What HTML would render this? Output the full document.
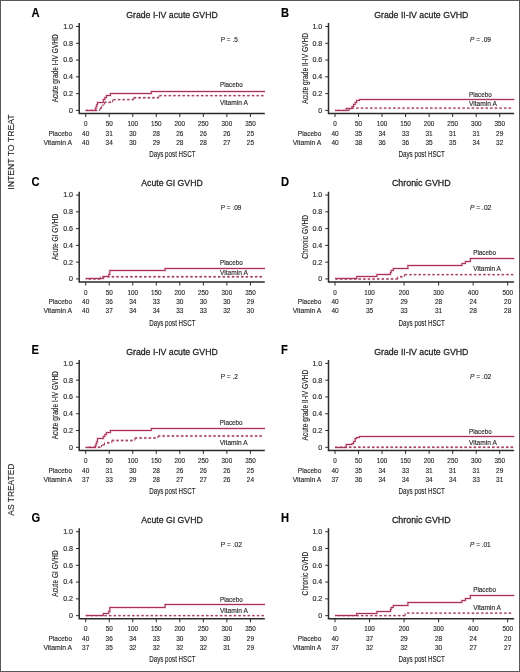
<!DOCTYPE html>
<html><head><meta charset="utf-8"><style>
html,body{margin:0;padding:0;background:#fff;}
body{width:520px;height:672px;overflow:hidden;}
svg{display:block;will-change:transform;}
svg text{font-family:"Liberation Sans", sans-serif;fill:#231f20;stroke:#231f20;stroke-width:0.14px;}
</style></head><body>
<svg width="520" height="672" viewBox="0 0 520 672">
<rect x="0" y="0" width="520" height="672" fill="#fff"/>
<text transform="translate(13.6 152.05) rotate(-90)" font-size="8.9" text-anchor="middle" textLength="75.4" lengthAdjust="spacingAndGlyphs">INTENT TO TREAT</text>
<text transform="translate(13.6 489.6) rotate(-90)" font-size="8.9" text-anchor="middle" textLength="52.1" lengthAdjust="spacingAndGlyphs">AS TREATED</text>
<g transform="translate(0 0)">
<text x="31.6" y="17" font-size="12.4" textLength="8.06" lengthAdjust="spacingAndGlyphs" font-weight="bold" style="fill:#000;stroke:#000">A</text>
<text x="172" y="17.7" font-size="9.1" text-anchor="middle" textLength="91.5" lengthAdjust="spacingAndGlyphs" style="stroke-width:0.28px">Grade I-IV acute GVHD</text>
<text x="220.8" y="41.5" font-size="6.8" textLength="17.1" lengthAdjust="spacingAndGlyphs">P = .5</text>
<text transform="translate(58.4 68.3) rotate(-90)" x="0" y="0" font-size="9.2" text-anchor="middle" textLength="68.1" lengthAdjust="spacingAndGlyphs">Acute grade I-IV GVHD</text>
<path d="M79.2 23.1V113.5H264.8" fill="none" stroke="#2a2a2a" stroke-width="1.5"/>
<path d="M76 110.4H79.2M76 93.62H79.2M76 76.84H79.2M76 60.06H79.2M76 43.28H79.2M76 26.5H79.2" stroke="#2a2a2a" stroke-width="1"/>
<text x="73" y="112.8" font-size="7.1" text-anchor="end">0</text>
<text x="73" y="96.02" font-size="7.1" text-anchor="end">0.2</text>
<text x="73" y="79.24" font-size="7.1" text-anchor="end">0.4</text>
<text x="73" y="62.46" font-size="7.1" text-anchor="end">0.6</text>
<text x="73" y="45.68" font-size="7.1" text-anchor="end">0.8</text>
<text x="73" y="28.9" font-size="7.1" text-anchor="end">1.0</text>
<path d="M85.7 113.5V117M109.23 113.5V117M132.76 113.5V117M156.29 113.5V117M179.82 113.5V117M203.35 113.5V117M226.88 113.5V117M250.41 113.5V117" stroke="#2a2a2a" stroke-width="1"/>
<text x="85.7" y="126" font-size="7.2" text-anchor="middle" textLength="3.52" lengthAdjust="spacingAndGlyphs">0</text>
<text x="109.23" y="126" font-size="7.2" text-anchor="middle" textLength="7.05" lengthAdjust="spacingAndGlyphs">50</text>
<text x="132.76" y="126" font-size="7.2" text-anchor="middle" textLength="10.57" lengthAdjust="spacingAndGlyphs">100</text>
<text x="156.29" y="126" font-size="7.2" text-anchor="middle" textLength="10.57" lengthAdjust="spacingAndGlyphs">150</text>
<text x="179.82" y="126" font-size="7.2" text-anchor="middle" textLength="10.57" lengthAdjust="spacingAndGlyphs">200</text>
<text x="203.35" y="126" font-size="7.2" text-anchor="middle" textLength="10.57" lengthAdjust="spacingAndGlyphs">250</text>
<text x="226.88" y="126" font-size="7.2" text-anchor="middle" textLength="10.57" lengthAdjust="spacingAndGlyphs">300</text>
<text x="250.41" y="126" font-size="7.2" text-anchor="middle" textLength="10.57" lengthAdjust="spacingAndGlyphs">350</text>
<text x="72" y="135.9" font-size="7.4" text-anchor="end" textLength="23.5" lengthAdjust="spacingAndGlyphs">Placebo</text>
<text x="72" y="144.9" font-size="7.4" text-anchor="end" textLength="28.6" lengthAdjust="spacingAndGlyphs">Vitamin A</text>
<text x="85.7" y="135.9" font-size="7.4" text-anchor="middle" textLength="7.24" lengthAdjust="spacingAndGlyphs">40</text>
<text x="109.23" y="135.9" font-size="7.4" text-anchor="middle" textLength="7.24" lengthAdjust="spacingAndGlyphs">31</text>
<text x="132.76" y="135.9" font-size="7.4" text-anchor="middle" textLength="7.24" lengthAdjust="spacingAndGlyphs">30</text>
<text x="156.29" y="135.9" font-size="7.4" text-anchor="middle" textLength="7.24" lengthAdjust="spacingAndGlyphs">28</text>
<text x="179.82" y="135.9" font-size="7.4" text-anchor="middle" textLength="7.24" lengthAdjust="spacingAndGlyphs">26</text>
<text x="203.35" y="135.9" font-size="7.4" text-anchor="middle" textLength="7.24" lengthAdjust="spacingAndGlyphs">26</text>
<text x="226.88" y="135.9" font-size="7.4" text-anchor="middle" textLength="7.24" lengthAdjust="spacingAndGlyphs">26</text>
<text x="250.41" y="135.9" font-size="7.4" text-anchor="middle" textLength="7.24" lengthAdjust="spacingAndGlyphs">25</text>
<text x="85.7" y="144.9" font-size="7.4" text-anchor="middle" textLength="7.24" lengthAdjust="spacingAndGlyphs">40</text>
<text x="109.23" y="144.9" font-size="7.4" text-anchor="middle" textLength="7.24" lengthAdjust="spacingAndGlyphs">34</text>
<text x="132.76" y="144.9" font-size="7.4" text-anchor="middle" textLength="7.24" lengthAdjust="spacingAndGlyphs">30</text>
<text x="156.29" y="144.9" font-size="7.4" text-anchor="middle" textLength="7.24" lengthAdjust="spacingAndGlyphs">29</text>
<text x="179.82" y="144.9" font-size="7.4" text-anchor="middle" textLength="7.24" lengthAdjust="spacingAndGlyphs">28</text>
<text x="203.35" y="144.9" font-size="7.4" text-anchor="middle" textLength="7.24" lengthAdjust="spacingAndGlyphs">28</text>
<text x="226.88" y="144.9" font-size="7.4" text-anchor="middle" textLength="7.24" lengthAdjust="spacingAndGlyphs">27</text>
<text x="250.41" y="144.9" font-size="7.4" text-anchor="middle" textLength="7.24" lengthAdjust="spacingAndGlyphs">25</text>
<text x="172.4" y="157" font-size="8.8" text-anchor="middle" textLength="46.4" lengthAdjust="spacingAndGlyphs">Days post HSCT</text>
<g fill="none" stroke="#f6cdd9" stroke-width="2.4" stroke-dasharray="2.5 2.12"><path d="M85.7 110.4H100" stroke-dashoffset="0.18"/><path d="M100 108.3H101.5" stroke-dashoffset="0.63"/><path d="M101.5 106.21H103" stroke-dashoffset="2.13"/><path d="M103 104.11H104.5" stroke-dashoffset="3.63"/><path d="M104.5 102.18H112.6" stroke-dashoffset="0.51"/><path d="M112.6 99.66H133.5" stroke-dashoffset="4"/><path d="M133.5 97.81H158.8" stroke-dashoffset="4.38"/><path d="M158.8 95.63H264" stroke-dashoffset="4.05"/></g>
<path d="M85.7 110.5H95.4V108.5H96.1V106.5H96.8V104.5H97.5V102.5H103.3V99.5H104.8V97.5H106.4V95.5H110.4V93.5H151.3V91.5H265" fill="none" stroke="#f6cdd9" stroke-width="2.4"/>
<g fill="none" stroke="#a04563" stroke-width="1.4" stroke-dasharray="2.5 2.12"><path d="M85.7 110.4H100" stroke-dashoffset="0.18"/><path d="M100 108.3H101.5" stroke-dashoffset="0.63"/><path d="M101.5 106.21H103" stroke-dashoffset="2.13"/><path d="M103 104.11H104.5" stroke-dashoffset="3.63"/><path d="M104.5 102.18H112.6" stroke-dashoffset="0.51"/><path d="M112.6 99.66H133.5" stroke-dashoffset="4"/><path d="M133.5 97.81H158.8" stroke-dashoffset="4.38"/><path d="M158.8 95.63H264" stroke-dashoffset="4.05"/></g>
<path d="M100 110.4V108.3M101.5 108.3V106.21M103 106.21V104.11M104.5 104.11V102.18M112.6 102.18V99.66M133.5 99.66V97.81M158.8 97.81V95.63" fill="none" stroke="#a04563" stroke-width="1.1"/>
<path d="M85.7 110.5H95.4V108.5H96.1V106.5H96.8V104.5H97.5V102.5H103.3V99.5H104.8V97.5H106.4V95.5H110.4V93.5H151.3V91.5H265" fill="none" stroke="#a33357" stroke-width="1.05"/>
<text x="220" y="87.4" font-size="7.5" textLength="22.8" lengthAdjust="spacingAndGlyphs">Placebo</text>
<text x="220" y="104.9" font-size="7.5" textLength="27.8" lengthAdjust="spacingAndGlyphs">Vitamin A</text>
</g>
<g transform="translate(249.3 0)">
<text x="31.6" y="17" font-size="12.4" textLength="8.06" lengthAdjust="spacingAndGlyphs" font-weight="bold" style="fill:#000;stroke:#000">B</text>
<text x="172" y="17.7" font-size="9.1" text-anchor="middle" textLength="94.2" lengthAdjust="spacingAndGlyphs" style="stroke-width:0.28px">Grade II-IV acute GVHD</text>
<text x="220.8" y="41.5" font-size="6.8" textLength="20.8" lengthAdjust="spacingAndGlyphs"><tspan font-style="italic">P</tspan> = .09</text>
<text transform="translate(58.4 68.3) rotate(-90)" x="0" y="0" font-size="9.2" text-anchor="middle" textLength="70.8" lengthAdjust="spacingAndGlyphs">Acute grade II-IV GVHD</text>
<path d="M79.2 23.1V113.5H264.8" fill="none" stroke="#2a2a2a" stroke-width="1.5"/>
<path d="M76 110.4H79.2M76 93.62H79.2M76 76.84H79.2M76 60.06H79.2M76 43.28H79.2M76 26.5H79.2" stroke="#2a2a2a" stroke-width="1"/>
<text x="73" y="112.8" font-size="7.1" text-anchor="end">0</text>
<text x="73" y="96.02" font-size="7.1" text-anchor="end">0.2</text>
<text x="73" y="79.24" font-size="7.1" text-anchor="end">0.4</text>
<text x="73" y="62.46" font-size="7.1" text-anchor="end">0.6</text>
<text x="73" y="45.68" font-size="7.1" text-anchor="end">0.8</text>
<text x="73" y="28.9" font-size="7.1" text-anchor="end">1.0</text>
<path d="M85.7 113.5V117M109.23 113.5V117M132.76 113.5V117M156.29 113.5V117M179.82 113.5V117M203.35 113.5V117M226.88 113.5V117M250.41 113.5V117" stroke="#2a2a2a" stroke-width="1"/>
<text x="85.7" y="126" font-size="7.2" text-anchor="middle" textLength="3.52" lengthAdjust="spacingAndGlyphs">0</text>
<text x="109.23" y="126" font-size="7.2" text-anchor="middle" textLength="7.05" lengthAdjust="spacingAndGlyphs">50</text>
<text x="132.76" y="126" font-size="7.2" text-anchor="middle" textLength="10.57" lengthAdjust="spacingAndGlyphs">100</text>
<text x="156.29" y="126" font-size="7.2" text-anchor="middle" textLength="10.57" lengthAdjust="spacingAndGlyphs">150</text>
<text x="179.82" y="126" font-size="7.2" text-anchor="middle" textLength="10.57" lengthAdjust="spacingAndGlyphs">200</text>
<text x="203.35" y="126" font-size="7.2" text-anchor="middle" textLength="10.57" lengthAdjust="spacingAndGlyphs">250</text>
<text x="226.88" y="126" font-size="7.2" text-anchor="middle" textLength="10.57" lengthAdjust="spacingAndGlyphs">300</text>
<text x="250.41" y="126" font-size="7.2" text-anchor="middle" textLength="10.57" lengthAdjust="spacingAndGlyphs">350</text>
<text x="72" y="135.9" font-size="7.4" text-anchor="end" textLength="23.5" lengthAdjust="spacingAndGlyphs">Placebo</text>
<text x="72" y="144.9" font-size="7.4" text-anchor="end" textLength="28.6" lengthAdjust="spacingAndGlyphs">Vitamin A</text>
<text x="85.7" y="135.9" font-size="7.4" text-anchor="middle" textLength="7.24" lengthAdjust="spacingAndGlyphs">40</text>
<text x="109.23" y="135.9" font-size="7.4" text-anchor="middle" textLength="7.24" lengthAdjust="spacingAndGlyphs">35</text>
<text x="132.76" y="135.9" font-size="7.4" text-anchor="middle" textLength="7.24" lengthAdjust="spacingAndGlyphs">34</text>
<text x="156.29" y="135.9" font-size="7.4" text-anchor="middle" textLength="7.24" lengthAdjust="spacingAndGlyphs">33</text>
<text x="179.82" y="135.9" font-size="7.4" text-anchor="middle" textLength="7.24" lengthAdjust="spacingAndGlyphs">31</text>
<text x="203.35" y="135.9" font-size="7.4" text-anchor="middle" textLength="7.24" lengthAdjust="spacingAndGlyphs">31</text>
<text x="226.88" y="135.9" font-size="7.4" text-anchor="middle" textLength="7.24" lengthAdjust="spacingAndGlyphs">31</text>
<text x="250.41" y="135.9" font-size="7.4" text-anchor="middle" textLength="7.24" lengthAdjust="spacingAndGlyphs">29</text>
<text x="85.7" y="144.9" font-size="7.4" text-anchor="middle" textLength="7.24" lengthAdjust="spacingAndGlyphs">40</text>
<text x="109.23" y="144.9" font-size="7.4" text-anchor="middle" textLength="7.24" lengthAdjust="spacingAndGlyphs">38</text>
<text x="132.76" y="144.9" font-size="7.4" text-anchor="middle" textLength="7.24" lengthAdjust="spacingAndGlyphs">36</text>
<text x="156.29" y="144.9" font-size="7.4" text-anchor="middle" textLength="7.24" lengthAdjust="spacingAndGlyphs">36</text>
<text x="179.82" y="144.9" font-size="7.4" text-anchor="middle" textLength="7.24" lengthAdjust="spacingAndGlyphs">35</text>
<text x="203.35" y="144.9" font-size="7.4" text-anchor="middle" textLength="7.24" lengthAdjust="spacingAndGlyphs">35</text>
<text x="226.88" y="144.9" font-size="7.4" text-anchor="middle" textLength="7.24" lengthAdjust="spacingAndGlyphs">34</text>
<text x="250.41" y="144.9" font-size="7.4" text-anchor="middle" textLength="7.24" lengthAdjust="spacingAndGlyphs">32</text>
<text x="172.4" y="157" font-size="8.8" text-anchor="middle" textLength="46.4" lengthAdjust="spacingAndGlyphs">Days post HSCT</text>
<g fill="none" stroke="#f6cdd9" stroke-width="2.4" stroke-dasharray="2.5 2.12"><path d="M85.7 110.4H99.95" stroke-dashoffset="1.96"/><path d="M99.95 108.13H264" stroke-dashoffset="2.37"/></g>
<path d="M85.7 110.5H96.95V108.5H102.7V106.5H104.3V104.5H105.8V102.5H107.3V100.5H110.2V99.5H265" fill="none" stroke="#f6cdd9" stroke-width="2.4"/>
<g fill="none" stroke="#a04563" stroke-width="1.4" stroke-dasharray="2.5 2.12"><path d="M85.7 110.4H99.95" stroke-dashoffset="1.96"/><path d="M99.95 108.13H264" stroke-dashoffset="2.37"/></g>
<path d="M99.95 110.4V108.13" fill="none" stroke="#a04563" stroke-width="1.1"/>
<path d="M85.7 110.5H96.95V108.5H102.7V106.5H104.3V104.5H105.8V102.5H107.3V100.5H110.2V99.5H265" fill="none" stroke="#a33357" stroke-width="1.05"/>
<text x="219.7" y="96.5" font-size="7.5" textLength="22.8" lengthAdjust="spacingAndGlyphs">Placebo</text>
<text x="219.7" y="105.9" font-size="7.5" textLength="27.8" lengthAdjust="spacingAndGlyphs">Vitamin A</text>
</g>
<g transform="translate(0 168.55)">
<text x="31.6" y="17" font-size="12.4" textLength="8.06" lengthAdjust="spacingAndGlyphs" font-weight="bold" style="fill:#000;stroke:#000">C</text>
<text x="172" y="17.7" font-size="9.1" text-anchor="middle" textLength="61.4" lengthAdjust="spacingAndGlyphs" style="stroke-width:0.28px">Acute GI GVHD</text>
<text x="220.8" y="41.2" font-size="6.8" textLength="20.7" lengthAdjust="spacingAndGlyphs">P = .09</text>
<text transform="translate(58.4 68.3) rotate(-90)" x="0" y="0" font-size="9.2" text-anchor="middle" textLength="46.4" lengthAdjust="spacingAndGlyphs">Acute GI GVHD</text>
<path d="M79.2 23.1V113.5H264.8" fill="none" stroke="#2a2a2a" stroke-width="1.5"/>
<path d="M76 110.4H79.2M76 93.62H79.2M76 76.84H79.2M76 60.06H79.2M76 43.28H79.2M76 26.5H79.2" stroke="#2a2a2a" stroke-width="1"/>
<text x="73" y="112.8" font-size="7.1" text-anchor="end">0</text>
<text x="73" y="96.02" font-size="7.1" text-anchor="end">0.2</text>
<text x="73" y="79.24" font-size="7.1" text-anchor="end">0.4</text>
<text x="73" y="62.46" font-size="7.1" text-anchor="end">0.6</text>
<text x="73" y="45.68" font-size="7.1" text-anchor="end">0.8</text>
<text x="73" y="28.9" font-size="7.1" text-anchor="end">1.0</text>
<path d="M85.7 113.5V117M109.23 113.5V117M132.76 113.5V117M156.29 113.5V117M179.82 113.5V117M203.35 113.5V117M226.88 113.5V117M250.41 113.5V117" stroke="#2a2a2a" stroke-width="1"/>
<text x="85.7" y="126" font-size="7.2" text-anchor="middle" textLength="3.52" lengthAdjust="spacingAndGlyphs">0</text>
<text x="109.23" y="126" font-size="7.2" text-anchor="middle" textLength="7.05" lengthAdjust="spacingAndGlyphs">50</text>
<text x="132.76" y="126" font-size="7.2" text-anchor="middle" textLength="10.57" lengthAdjust="spacingAndGlyphs">100</text>
<text x="156.29" y="126" font-size="7.2" text-anchor="middle" textLength="10.57" lengthAdjust="spacingAndGlyphs">150</text>
<text x="179.82" y="126" font-size="7.2" text-anchor="middle" textLength="10.57" lengthAdjust="spacingAndGlyphs">200</text>
<text x="203.35" y="126" font-size="7.2" text-anchor="middle" textLength="10.57" lengthAdjust="spacingAndGlyphs">250</text>
<text x="226.88" y="126" font-size="7.2" text-anchor="middle" textLength="10.57" lengthAdjust="spacingAndGlyphs">300</text>
<text x="250.41" y="126" font-size="7.2" text-anchor="middle" textLength="10.57" lengthAdjust="spacingAndGlyphs">350</text>
<text x="72" y="135.9" font-size="7.4" text-anchor="end" textLength="23.5" lengthAdjust="spacingAndGlyphs">Placebo</text>
<text x="72" y="144.9" font-size="7.4" text-anchor="end" textLength="28.6" lengthAdjust="spacingAndGlyphs">Vitamin A</text>
<text x="85.7" y="135.9" font-size="7.4" text-anchor="middle" textLength="7.24" lengthAdjust="spacingAndGlyphs">40</text>
<text x="109.23" y="135.9" font-size="7.4" text-anchor="middle" textLength="7.24" lengthAdjust="spacingAndGlyphs">36</text>
<text x="132.76" y="135.9" font-size="7.4" text-anchor="middle" textLength="7.24" lengthAdjust="spacingAndGlyphs">34</text>
<text x="156.29" y="135.9" font-size="7.4" text-anchor="middle" textLength="7.24" lengthAdjust="spacingAndGlyphs">33</text>
<text x="179.82" y="135.9" font-size="7.4" text-anchor="middle" textLength="7.24" lengthAdjust="spacingAndGlyphs">30</text>
<text x="203.35" y="135.9" font-size="7.4" text-anchor="middle" textLength="7.24" lengthAdjust="spacingAndGlyphs">30</text>
<text x="226.88" y="135.9" font-size="7.4" text-anchor="middle" textLength="7.24" lengthAdjust="spacingAndGlyphs">30</text>
<text x="250.41" y="135.9" font-size="7.4" text-anchor="middle" textLength="7.24" lengthAdjust="spacingAndGlyphs">29</text>
<text x="85.7" y="144.9" font-size="7.4" text-anchor="middle" textLength="7.24" lengthAdjust="spacingAndGlyphs">40</text>
<text x="109.23" y="144.9" font-size="7.4" text-anchor="middle" textLength="7.24" lengthAdjust="spacingAndGlyphs">37</text>
<text x="132.76" y="144.9" font-size="7.4" text-anchor="middle" textLength="7.24" lengthAdjust="spacingAndGlyphs">34</text>
<text x="156.29" y="144.9" font-size="7.4" text-anchor="middle" textLength="7.24" lengthAdjust="spacingAndGlyphs">34</text>
<text x="179.82" y="144.9" font-size="7.4" text-anchor="middle" textLength="7.24" lengthAdjust="spacingAndGlyphs">33</text>
<text x="203.35" y="144.9" font-size="7.4" text-anchor="middle" textLength="7.24" lengthAdjust="spacingAndGlyphs">33</text>
<text x="226.88" y="144.9" font-size="7.4" text-anchor="middle" textLength="7.24" lengthAdjust="spacingAndGlyphs">32</text>
<text x="250.41" y="144.9" font-size="7.4" text-anchor="middle" textLength="7.24" lengthAdjust="spacingAndGlyphs">30</text>
<text x="172.4" y="157" font-size="8.8" text-anchor="middle" textLength="46.4" lengthAdjust="spacingAndGlyphs">Days post HSCT</text>
<g fill="none" stroke="#f6cdd9" stroke-width="2.4" stroke-dasharray="2.5 2.12"><path d="M85.7 110.4H100.3" stroke-dashoffset="1.73"/><path d="M100.3 108.13H264" stroke-dashoffset="2.48"/></g>
<path d="M85.7 109.95H103.3V107.95H108.7V105.95H109.8V101.95H165.1V99.95H265" fill="none" stroke="#f6cdd9" stroke-width="2.4"/>
<g fill="none" stroke="#a04563" stroke-width="1.4" stroke-dasharray="2.5 2.12"><path d="M85.7 110.4H100.3" stroke-dashoffset="1.73"/><path d="M100.3 108.13H264" stroke-dashoffset="2.48"/></g>
<path d="M100.3 110.4V108.13" fill="none" stroke="#a04563" stroke-width="1.1"/>
<path d="M85.7 109.95H103.3V107.95H108.7V105.95H109.8V101.95H165.1V99.95H265" fill="none" stroke="#a33357" stroke-width="1.05"/>
<text x="220" y="96.15" font-size="7.5" textLength="22.8" lengthAdjust="spacingAndGlyphs">Placebo</text>
<text x="220" y="106.15" font-size="7.5" textLength="27.8" lengthAdjust="spacingAndGlyphs">Vitamin A</text>
</g>
<g transform="translate(249.3 168.55)">
<text x="31.6" y="17" font-size="12.4" textLength="8.06" lengthAdjust="spacingAndGlyphs" font-weight="bold" style="fill:#000;stroke:#000">D</text>
<text x="172" y="17.7" font-size="9.1" text-anchor="middle" textLength="58.8" lengthAdjust="spacingAndGlyphs" style="stroke-width:0.28px">Chronic GVHD</text>
<text x="220.8" y="41.2" font-size="6.8" textLength="21.2" lengthAdjust="spacingAndGlyphs"><tspan font-style="italic">P</tspan> = .02</text>
<text transform="translate(58.4 68.3) rotate(-90)" x="0" y="0" font-size="9.2" text-anchor="middle" textLength="43.7" lengthAdjust="spacingAndGlyphs">Chronic GVHD</text>
<path d="M79.2 23.1V113.5H264.8" fill="none" stroke="#2a2a2a" stroke-width="1.5"/>
<path d="M76 110.4H79.2M76 93.62H79.2M76 76.84H79.2M76 60.06H79.2M76 43.28H79.2M76 26.5H79.2" stroke="#2a2a2a" stroke-width="1"/>
<text x="73" y="112.8" font-size="7.1" text-anchor="end">0</text>
<text x="73" y="96.02" font-size="7.1" text-anchor="end">0.2</text>
<text x="73" y="79.24" font-size="7.1" text-anchor="end">0.4</text>
<text x="73" y="62.46" font-size="7.1" text-anchor="end">0.6</text>
<text x="73" y="45.68" font-size="7.1" text-anchor="end">0.8</text>
<text x="73" y="28.9" font-size="7.1" text-anchor="end">1.0</text>
<path d="M85.7 113.5V117M120.24 113.5V117M154.78 113.5V117M189.32 113.5V117M223.86 113.5V117M258.4 113.5V117" stroke="#2a2a2a" stroke-width="1"/>
<text x="85.7" y="126" font-size="7.2" text-anchor="middle" textLength="3.52" lengthAdjust="spacingAndGlyphs">0</text>
<text x="120.24" y="126" font-size="7.2" text-anchor="middle" textLength="10.57" lengthAdjust="spacingAndGlyphs">100</text>
<text x="154.78" y="126" font-size="7.2" text-anchor="middle" textLength="10.57" lengthAdjust="spacingAndGlyphs">200</text>
<text x="189.32" y="126" font-size="7.2" text-anchor="middle" textLength="10.57" lengthAdjust="spacingAndGlyphs">300</text>
<text x="223.86" y="126" font-size="7.2" text-anchor="middle" textLength="10.57" lengthAdjust="spacingAndGlyphs">400</text>
<text x="258.4" y="126" font-size="7.2" text-anchor="middle" textLength="10.57" lengthAdjust="spacingAndGlyphs">500</text>
<text x="72" y="135.9" font-size="7.4" text-anchor="end" textLength="23.5" lengthAdjust="spacingAndGlyphs">Placebo</text>
<text x="72" y="144.9" font-size="7.4" text-anchor="end" textLength="28.6" lengthAdjust="spacingAndGlyphs">Vitamin A</text>
<text x="85.7" y="135.9" font-size="7.4" text-anchor="middle" textLength="7.24" lengthAdjust="spacingAndGlyphs">40</text>
<text x="120.24" y="135.9" font-size="7.4" text-anchor="middle" textLength="7.24" lengthAdjust="spacingAndGlyphs">37</text>
<text x="154.78" y="135.9" font-size="7.4" text-anchor="middle" textLength="7.24" lengthAdjust="spacingAndGlyphs">29</text>
<text x="189.32" y="135.9" font-size="7.4" text-anchor="middle" textLength="7.24" lengthAdjust="spacingAndGlyphs">28</text>
<text x="223.86" y="135.9" font-size="7.4" text-anchor="middle" textLength="7.24" lengthAdjust="spacingAndGlyphs">24</text>
<text x="258.4" y="135.9" font-size="7.4" text-anchor="middle" textLength="7.24" lengthAdjust="spacingAndGlyphs">20</text>
<text x="85.7" y="144.9" font-size="7.4" text-anchor="middle" textLength="7.24" lengthAdjust="spacingAndGlyphs">40</text>
<text x="120.24" y="144.9" font-size="7.4" text-anchor="middle" textLength="7.24" lengthAdjust="spacingAndGlyphs">35</text>
<text x="154.78" y="144.9" font-size="7.4" text-anchor="middle" textLength="7.24" lengthAdjust="spacingAndGlyphs">33</text>
<text x="189.32" y="144.9" font-size="7.4" text-anchor="middle" textLength="7.24" lengthAdjust="spacingAndGlyphs">31</text>
<text x="223.86" y="144.9" font-size="7.4" text-anchor="middle" textLength="7.24" lengthAdjust="spacingAndGlyphs">28</text>
<text x="258.4" y="144.9" font-size="7.4" text-anchor="middle" textLength="7.24" lengthAdjust="spacingAndGlyphs">28</text>
<text x="172.4" y="157" font-size="8.8" text-anchor="middle" textLength="46.4" lengthAdjust="spacingAndGlyphs">Days post HSCT</text>
<g fill="none" stroke="#f6cdd9" stroke-width="2.4" stroke-dasharray="2.5 2.12"><path d="M85.7 110.4H148.4" stroke-dashoffset="4.24"/><path d="M148.4 108.22H155.1" stroke-dashoffset="2.33"/><path d="M155.1 106.04H264" stroke-dashoffset="4.42"/></g>
<path d="M85.7 109.95H107.4V107.95H127.6V105.95H141.1V103.95H141.9V101.95H144V99.95H158.6V96.95H212.6V94.95H216.1V92.95H221V89.95H265" fill="none" stroke="#f6cdd9" stroke-width="2.4"/>
<g fill="none" stroke="#a04563" stroke-width="1.4" stroke-dasharray="2.5 2.12"><path d="M85.7 110.4H148.4" stroke-dashoffset="4.24"/><path d="M148.4 108.22H155.1" stroke-dashoffset="2.33"/><path d="M155.1 106.04H264" stroke-dashoffset="4.42"/></g>
<path d="M148.4 110.4V108.22M155.1 108.22V106.04" fill="none" stroke="#a04563" stroke-width="1.1"/>
<path d="M85.7 109.95H107.4V107.95H127.6V105.95H141.1V103.95H141.9V101.95H144V99.95H158.6V96.95H212.6V94.95H216.1V92.95H221V89.95H265" fill="none" stroke="#a33357" stroke-width="1.05"/>
<text x="223.9" y="86.95" font-size="7.5" textLength="22.8" lengthAdjust="spacingAndGlyphs">Placebo</text>
<text x="223.9" y="102.75" font-size="7.5" textLength="27.8" lengthAdjust="spacingAndGlyphs">Vitamin A</text>
</g>
<g transform="translate(0 336.9)">
<text x="31.6" y="17" font-size="12.4" textLength="7.44" lengthAdjust="spacingAndGlyphs" font-weight="bold" style="fill:#000;stroke:#000">E</text>
<text x="172" y="17.7" font-size="9.1" text-anchor="middle" textLength="91.5" lengthAdjust="spacingAndGlyphs" style="stroke-width:0.28px">Grade I-IV acute GVHD</text>
<text x="220.8" y="41.85" font-size="6.8" textLength="17.1" lengthAdjust="spacingAndGlyphs">P = .2</text>
<text transform="translate(58.4 68.3) rotate(-90)" x="0" y="0" font-size="9.2" text-anchor="middle" textLength="68.1" lengthAdjust="spacingAndGlyphs">Acute grade I-IV GVHD</text>
<path d="M79.2 23.1V113.5H264.8" fill="none" stroke="#2a2a2a" stroke-width="1.5"/>
<path d="M76 110.4H79.2M76 93.62H79.2M76 76.84H79.2M76 60.06H79.2M76 43.28H79.2M76 26.5H79.2" stroke="#2a2a2a" stroke-width="1"/>
<text x="73" y="112.8" font-size="7.1" text-anchor="end">0</text>
<text x="73" y="96.02" font-size="7.1" text-anchor="end">0.2</text>
<text x="73" y="79.24" font-size="7.1" text-anchor="end">0.4</text>
<text x="73" y="62.46" font-size="7.1" text-anchor="end">0.6</text>
<text x="73" y="45.68" font-size="7.1" text-anchor="end">0.8</text>
<text x="73" y="28.9" font-size="7.1" text-anchor="end">1.0</text>
<path d="M85.7 113.5V117M109.23 113.5V117M132.76 113.5V117M156.29 113.5V117M179.82 113.5V117M203.35 113.5V117M226.88 113.5V117M250.41 113.5V117" stroke="#2a2a2a" stroke-width="1"/>
<text x="85.7" y="126" font-size="7.2" text-anchor="middle" textLength="3.52" lengthAdjust="spacingAndGlyphs">0</text>
<text x="109.23" y="126" font-size="7.2" text-anchor="middle" textLength="7.05" lengthAdjust="spacingAndGlyphs">50</text>
<text x="132.76" y="126" font-size="7.2" text-anchor="middle" textLength="10.57" lengthAdjust="spacingAndGlyphs">100</text>
<text x="156.29" y="126" font-size="7.2" text-anchor="middle" textLength="10.57" lengthAdjust="spacingAndGlyphs">150</text>
<text x="179.82" y="126" font-size="7.2" text-anchor="middle" textLength="10.57" lengthAdjust="spacingAndGlyphs">200</text>
<text x="203.35" y="126" font-size="7.2" text-anchor="middle" textLength="10.57" lengthAdjust="spacingAndGlyphs">250</text>
<text x="226.88" y="126" font-size="7.2" text-anchor="middle" textLength="10.57" lengthAdjust="spacingAndGlyphs">300</text>
<text x="250.41" y="126" font-size="7.2" text-anchor="middle" textLength="10.57" lengthAdjust="spacingAndGlyphs">350</text>
<text x="72" y="135.9" font-size="7.4" text-anchor="end" textLength="23.5" lengthAdjust="spacingAndGlyphs">Placebo</text>
<text x="72" y="144.9" font-size="7.4" text-anchor="end" textLength="28.6" lengthAdjust="spacingAndGlyphs">Vitamin A</text>
<text x="85.7" y="135.9" font-size="7.4" text-anchor="middle" textLength="7.24" lengthAdjust="spacingAndGlyphs">40</text>
<text x="109.23" y="135.9" font-size="7.4" text-anchor="middle" textLength="7.24" lengthAdjust="spacingAndGlyphs">31</text>
<text x="132.76" y="135.9" font-size="7.4" text-anchor="middle" textLength="7.24" lengthAdjust="spacingAndGlyphs">30</text>
<text x="156.29" y="135.9" font-size="7.4" text-anchor="middle" textLength="7.24" lengthAdjust="spacingAndGlyphs">28</text>
<text x="179.82" y="135.9" font-size="7.4" text-anchor="middle" textLength="7.24" lengthAdjust="spacingAndGlyphs">26</text>
<text x="203.35" y="135.9" font-size="7.4" text-anchor="middle" textLength="7.24" lengthAdjust="spacingAndGlyphs">26</text>
<text x="226.88" y="135.9" font-size="7.4" text-anchor="middle" textLength="7.24" lengthAdjust="spacingAndGlyphs">26</text>
<text x="250.41" y="135.9" font-size="7.4" text-anchor="middle" textLength="7.24" lengthAdjust="spacingAndGlyphs">25</text>
<text x="85.7" y="144.9" font-size="7.4" text-anchor="middle" textLength="7.24" lengthAdjust="spacingAndGlyphs">37</text>
<text x="109.23" y="144.9" font-size="7.4" text-anchor="middle" textLength="7.24" lengthAdjust="spacingAndGlyphs">33</text>
<text x="132.76" y="144.9" font-size="7.4" text-anchor="middle" textLength="7.24" lengthAdjust="spacingAndGlyphs">29</text>
<text x="156.29" y="144.9" font-size="7.4" text-anchor="middle" textLength="7.24" lengthAdjust="spacingAndGlyphs">28</text>
<text x="179.82" y="144.9" font-size="7.4" text-anchor="middle" textLength="7.24" lengthAdjust="spacingAndGlyphs">27</text>
<text x="203.35" y="144.9" font-size="7.4" text-anchor="middle" textLength="7.24" lengthAdjust="spacingAndGlyphs">27</text>
<text x="226.88" y="144.9" font-size="7.4" text-anchor="middle" textLength="7.24" lengthAdjust="spacingAndGlyphs">26</text>
<text x="250.41" y="144.9" font-size="7.4" text-anchor="middle" textLength="7.24" lengthAdjust="spacingAndGlyphs">24</text>
<text x="172.4" y="157" font-size="8.8" text-anchor="middle" textLength="46.4" lengthAdjust="spacingAndGlyphs">Days post HSCT</text>
<g fill="none" stroke="#f6cdd9" stroke-width="2.4" stroke-dasharray="2.5 2.12"><path d="M85.7 110.4H101.5" stroke-dashoffset="1.73"/><path d="M101.5 108.05H104.5" stroke-dashoffset="3.68"/><path d="M104.5 105.79H111.8" stroke-dashoffset="2.07"/><path d="M111.8 103.6H134.9" stroke-dashoffset="0.14"/><path d="M134.9 101.17H158" stroke-dashoffset="0.16"/><path d="M158 99.16H264" stroke-dashoffset="0.19"/></g>
<path d="M85.7 110.6H95.4V108.6H96.1V106.6H96.8V104.6H97.5V101.6H103.3V99.6H104.8V97.6H106.4V95.6H110.4V93.6H151.3V91.6H265" fill="none" stroke="#f6cdd9" stroke-width="2.4"/>
<g fill="none" stroke="#a04563" stroke-width="1.4" stroke-dasharray="2.5 2.12"><path d="M85.7 110.4H101.5" stroke-dashoffset="1.73"/><path d="M101.5 108.05H104.5" stroke-dashoffset="3.68"/><path d="M104.5 105.79H111.8" stroke-dashoffset="2.07"/><path d="M111.8 103.6H134.9" stroke-dashoffset="0.14"/><path d="M134.9 101.17H158" stroke-dashoffset="0.16"/><path d="M158 99.16H264" stroke-dashoffset="0.19"/></g>
<path d="M101.5 110.4V108.05M104.5 108.05V105.79M111.8 105.79V103.6M134.9 103.6V101.17M158 101.17V99.16" fill="none" stroke="#a04563" stroke-width="1.1"/>
<path d="M85.7 110.6H95.4V108.6H96.1V106.6H96.8V104.6H97.5V101.6H103.3V99.6H104.8V97.6H106.4V95.6H110.4V93.6H151.3V91.6H265" fill="none" stroke="#a33357" stroke-width="1.05"/>
<text x="219.8" y="88.1" font-size="7.5" textLength="22.8" lengthAdjust="spacingAndGlyphs">Placebo</text>
<text x="219.8" y="107.9" font-size="7.5" textLength="27.8" lengthAdjust="spacingAndGlyphs">Vitamin A</text>
</g>
<g transform="translate(249.3 336.9)">
<text x="31.6" y="17" font-size="12.4" textLength="6.82" lengthAdjust="spacingAndGlyphs" font-weight="bold" style="fill:#000;stroke:#000">F</text>
<text x="172" y="17.7" font-size="9.1" text-anchor="middle" textLength="94.2" lengthAdjust="spacingAndGlyphs" style="stroke-width:0.28px">Grade II-IV acute GVHD</text>
<text x="220.8" y="41.85" font-size="6.8" textLength="21.2" lengthAdjust="spacingAndGlyphs"><tspan font-style="italic">P</tspan> = .02</text>
<text transform="translate(58.4 68.3) rotate(-90)" x="0" y="0" font-size="9.2" text-anchor="middle" textLength="70.8" lengthAdjust="spacingAndGlyphs">Acute grade II-IV GVHD</text>
<path d="M79.2 23.1V113.5H264.8" fill="none" stroke="#2a2a2a" stroke-width="1.5"/>
<path d="M76 110.4H79.2M76 93.62H79.2M76 76.84H79.2M76 60.06H79.2M76 43.28H79.2M76 26.5H79.2" stroke="#2a2a2a" stroke-width="1"/>
<text x="73" y="112.8" font-size="7.1" text-anchor="end">0</text>
<text x="73" y="96.02" font-size="7.1" text-anchor="end">0.2</text>
<text x="73" y="79.24" font-size="7.1" text-anchor="end">0.4</text>
<text x="73" y="62.46" font-size="7.1" text-anchor="end">0.6</text>
<text x="73" y="45.68" font-size="7.1" text-anchor="end">0.8</text>
<text x="73" y="28.9" font-size="7.1" text-anchor="end">1.0</text>
<path d="M85.7 113.5V117M109.23 113.5V117M132.76 113.5V117M156.29 113.5V117M179.82 113.5V117M203.35 113.5V117M226.88 113.5V117M250.41 113.5V117" stroke="#2a2a2a" stroke-width="1"/>
<text x="85.7" y="126" font-size="7.2" text-anchor="middle" textLength="3.52" lengthAdjust="spacingAndGlyphs">0</text>
<text x="109.23" y="126" font-size="7.2" text-anchor="middle" textLength="7.05" lengthAdjust="spacingAndGlyphs">50</text>
<text x="132.76" y="126" font-size="7.2" text-anchor="middle" textLength="10.57" lengthAdjust="spacingAndGlyphs">100</text>
<text x="156.29" y="126" font-size="7.2" text-anchor="middle" textLength="10.57" lengthAdjust="spacingAndGlyphs">150</text>
<text x="179.82" y="126" font-size="7.2" text-anchor="middle" textLength="10.57" lengthAdjust="spacingAndGlyphs">200</text>
<text x="203.35" y="126" font-size="7.2" text-anchor="middle" textLength="10.57" lengthAdjust="spacingAndGlyphs">250</text>
<text x="226.88" y="126" font-size="7.2" text-anchor="middle" textLength="10.57" lengthAdjust="spacingAndGlyphs">300</text>
<text x="250.41" y="126" font-size="7.2" text-anchor="middle" textLength="10.57" lengthAdjust="spacingAndGlyphs">350</text>
<text x="72" y="135.9" font-size="7.4" text-anchor="end" textLength="23.5" lengthAdjust="spacingAndGlyphs">Placebo</text>
<text x="72" y="144.9" font-size="7.4" text-anchor="end" textLength="28.6" lengthAdjust="spacingAndGlyphs">Vitamin A</text>
<text x="85.7" y="135.9" font-size="7.4" text-anchor="middle" textLength="7.24" lengthAdjust="spacingAndGlyphs">40</text>
<text x="109.23" y="135.9" font-size="7.4" text-anchor="middle" textLength="7.24" lengthAdjust="spacingAndGlyphs">35</text>
<text x="132.76" y="135.9" font-size="7.4" text-anchor="middle" textLength="7.24" lengthAdjust="spacingAndGlyphs">34</text>
<text x="156.29" y="135.9" font-size="7.4" text-anchor="middle" textLength="7.24" lengthAdjust="spacingAndGlyphs">33</text>
<text x="179.82" y="135.9" font-size="7.4" text-anchor="middle" textLength="7.24" lengthAdjust="spacingAndGlyphs">31</text>
<text x="203.35" y="135.9" font-size="7.4" text-anchor="middle" textLength="7.24" lengthAdjust="spacingAndGlyphs">31</text>
<text x="226.88" y="135.9" font-size="7.4" text-anchor="middle" textLength="7.24" lengthAdjust="spacingAndGlyphs">31</text>
<text x="250.41" y="135.9" font-size="7.4" text-anchor="middle" textLength="7.24" lengthAdjust="spacingAndGlyphs">29</text>
<text x="85.7" y="144.9" font-size="7.4" text-anchor="middle" textLength="7.24" lengthAdjust="spacingAndGlyphs">37</text>
<text x="109.23" y="144.9" font-size="7.4" text-anchor="middle" textLength="7.24" lengthAdjust="spacingAndGlyphs">36</text>
<text x="132.76" y="144.9" font-size="7.4" text-anchor="middle" textLength="7.24" lengthAdjust="spacingAndGlyphs">34</text>
<text x="156.29" y="144.9" font-size="7.4" text-anchor="middle" textLength="7.24" lengthAdjust="spacingAndGlyphs">34</text>
<text x="179.82" y="144.9" font-size="7.4" text-anchor="middle" textLength="7.24" lengthAdjust="spacingAndGlyphs">34</text>
<text x="203.35" y="144.9" font-size="7.4" text-anchor="middle" textLength="7.24" lengthAdjust="spacingAndGlyphs">34</text>
<text x="226.88" y="144.9" font-size="7.4" text-anchor="middle" textLength="7.24" lengthAdjust="spacingAndGlyphs">33</text>
<text x="250.41" y="144.9" font-size="7.4" text-anchor="middle" textLength="7.24" lengthAdjust="spacingAndGlyphs">31</text>
<text x="172.4" y="157" font-size="8.8" text-anchor="middle" textLength="46.4" lengthAdjust="spacingAndGlyphs">Days post HSCT</text>
<g fill="none" stroke="#f6cdd9" stroke-width="2.4" stroke-dasharray="2.5 2.12"><path d="M85.7 110.4H264" stroke-dashoffset="4.58"/></g>
<path d="M85.7 110.6H96.95V107.6H102.7V106.6H104.3V104.6H105.8V101.6H107.3V100.6H110.2V99.6H265" fill="none" stroke="#f6cdd9" stroke-width="2.4"/>
<g fill="none" stroke="#a04563" stroke-width="1.4" stroke-dasharray="2.5 2.12"><path d="M85.7 110.4H264" stroke-dashoffset="4.58"/></g>
<path d="M85.7 110.6H96.95V107.6H102.7V106.6H104.3V104.6H105.8V101.6H107.3V100.6H110.2V99.6H265" fill="none" stroke="#a33357" stroke-width="1.05"/>
<text x="219.7" y="96.7" font-size="7.5" textLength="22.8" lengthAdjust="spacingAndGlyphs">Placebo</text>
<text x="219.7" y="107.9" font-size="7.5" textLength="27.8" lengthAdjust="spacingAndGlyphs">Vitamin A</text>
</g>
<g transform="translate(0 505.25)">
<text x="31.6" y="17" font-size="12.4" textLength="8.68" lengthAdjust="spacingAndGlyphs" font-weight="bold" style="fill:#000;stroke:#000">G</text>
<text x="172" y="17.7" font-size="9.1" text-anchor="middle" textLength="61.4" lengthAdjust="spacingAndGlyphs" style="stroke-width:0.28px">Acute GI GVHD</text>
<text x="220.8" y="41.65" font-size="6.8" textLength="21.2" lengthAdjust="spacingAndGlyphs">P = .02</text>
<text transform="translate(58.4 68.3) rotate(-90)" x="0" y="0" font-size="9.2" text-anchor="middle" textLength="46.4" lengthAdjust="spacingAndGlyphs">Acute GI GVHD</text>
<path d="M79.2 23.1V113.5H264.8" fill="none" stroke="#2a2a2a" stroke-width="1.5"/>
<path d="M76 110.4H79.2M76 93.62H79.2M76 76.84H79.2M76 60.06H79.2M76 43.28H79.2M76 26.5H79.2" stroke="#2a2a2a" stroke-width="1"/>
<text x="73" y="112.8" font-size="7.1" text-anchor="end">0</text>
<text x="73" y="96.02" font-size="7.1" text-anchor="end">0.2</text>
<text x="73" y="79.24" font-size="7.1" text-anchor="end">0.4</text>
<text x="73" y="62.46" font-size="7.1" text-anchor="end">0.6</text>
<text x="73" y="45.68" font-size="7.1" text-anchor="end">0.8</text>
<text x="73" y="28.9" font-size="7.1" text-anchor="end">1.0</text>
<path d="M85.7 113.5V117M109.23 113.5V117M132.76 113.5V117M156.29 113.5V117M179.82 113.5V117M203.35 113.5V117M226.88 113.5V117M250.41 113.5V117" stroke="#2a2a2a" stroke-width="1"/>
<text x="85.7" y="126" font-size="7.2" text-anchor="middle" textLength="3.52" lengthAdjust="spacingAndGlyphs">0</text>
<text x="109.23" y="126" font-size="7.2" text-anchor="middle" textLength="7.05" lengthAdjust="spacingAndGlyphs">50</text>
<text x="132.76" y="126" font-size="7.2" text-anchor="middle" textLength="10.57" lengthAdjust="spacingAndGlyphs">100</text>
<text x="156.29" y="126" font-size="7.2" text-anchor="middle" textLength="10.57" lengthAdjust="spacingAndGlyphs">150</text>
<text x="179.82" y="126" font-size="7.2" text-anchor="middle" textLength="10.57" lengthAdjust="spacingAndGlyphs">200</text>
<text x="203.35" y="126" font-size="7.2" text-anchor="middle" textLength="10.57" lengthAdjust="spacingAndGlyphs">250</text>
<text x="226.88" y="126" font-size="7.2" text-anchor="middle" textLength="10.57" lengthAdjust="spacingAndGlyphs">300</text>
<text x="250.41" y="126" font-size="7.2" text-anchor="middle" textLength="10.57" lengthAdjust="spacingAndGlyphs">350</text>
<text x="72" y="135.9" font-size="7.4" text-anchor="end" textLength="23.5" lengthAdjust="spacingAndGlyphs">Placebo</text>
<text x="72" y="144.9" font-size="7.4" text-anchor="end" textLength="28.6" lengthAdjust="spacingAndGlyphs">Vitamin A</text>
<text x="85.7" y="135.9" font-size="7.4" text-anchor="middle" textLength="7.24" lengthAdjust="spacingAndGlyphs">40</text>
<text x="109.23" y="135.9" font-size="7.4" text-anchor="middle" textLength="7.24" lengthAdjust="spacingAndGlyphs">36</text>
<text x="132.76" y="135.9" font-size="7.4" text-anchor="middle" textLength="7.24" lengthAdjust="spacingAndGlyphs">34</text>
<text x="156.29" y="135.9" font-size="7.4" text-anchor="middle" textLength="7.24" lengthAdjust="spacingAndGlyphs">33</text>
<text x="179.82" y="135.9" font-size="7.4" text-anchor="middle" textLength="7.24" lengthAdjust="spacingAndGlyphs">30</text>
<text x="203.35" y="135.9" font-size="7.4" text-anchor="middle" textLength="7.24" lengthAdjust="spacingAndGlyphs">30</text>
<text x="226.88" y="135.9" font-size="7.4" text-anchor="middle" textLength="7.24" lengthAdjust="spacingAndGlyphs">30</text>
<text x="250.41" y="135.9" font-size="7.4" text-anchor="middle" textLength="7.24" lengthAdjust="spacingAndGlyphs">29</text>
<text x="85.7" y="144.9" font-size="7.4" text-anchor="middle" textLength="7.24" lengthAdjust="spacingAndGlyphs">37</text>
<text x="109.23" y="144.9" font-size="7.4" text-anchor="middle" textLength="7.24" lengthAdjust="spacingAndGlyphs">35</text>
<text x="132.76" y="144.9" font-size="7.4" text-anchor="middle" textLength="7.24" lengthAdjust="spacingAndGlyphs">32</text>
<text x="156.29" y="144.9" font-size="7.4" text-anchor="middle" textLength="7.24" lengthAdjust="spacingAndGlyphs">32</text>
<text x="179.82" y="144.9" font-size="7.4" text-anchor="middle" textLength="7.24" lengthAdjust="spacingAndGlyphs">32</text>
<text x="203.35" y="144.9" font-size="7.4" text-anchor="middle" textLength="7.24" lengthAdjust="spacingAndGlyphs">32</text>
<text x="226.88" y="144.9" font-size="7.4" text-anchor="middle" textLength="7.24" lengthAdjust="spacingAndGlyphs">31</text>
<text x="250.41" y="144.9" font-size="7.4" text-anchor="middle" textLength="7.24" lengthAdjust="spacingAndGlyphs">29</text>
<text x="172.4" y="157" font-size="8.8" text-anchor="middle" textLength="46.4" lengthAdjust="spacingAndGlyphs">Days post HSCT</text>
<g fill="none" stroke="#f6cdd9" stroke-width="2.4" stroke-dasharray="2.5 2.12"><path d="M85.7 110.4H264" stroke-dashoffset="4.44"/></g>
<path d="M85.7 110.25H103.3V108.25H108.7V106.25H109.8V102.25H165.1V99.25H265" fill="none" stroke="#f6cdd9" stroke-width="2.4"/>
<g fill="none" stroke="#a04563" stroke-width="1.4" stroke-dasharray="2.5 2.12"><path d="M85.7 110.4H264" stroke-dashoffset="4.44"/></g>
<path d="M85.7 110.25H103.3V108.25H108.7V106.25H109.8V102.25H165.1V99.25H265" fill="none" stroke="#a33357" stroke-width="1.05"/>
<text x="220" y="96.75" font-size="7.5" textLength="22.8" lengthAdjust="spacingAndGlyphs">Placebo</text>
<text x="220" y="107.25" font-size="7.5" textLength="27.8" lengthAdjust="spacingAndGlyphs">Vitamin A</text>
</g>
<g transform="translate(249.3 505.25)">
<text x="31.6" y="17" font-size="12.4" textLength="8.06" lengthAdjust="spacingAndGlyphs" font-weight="bold" style="fill:#000;stroke:#000">H</text>
<text x="172" y="17.7" font-size="9.1" text-anchor="middle" textLength="58.8" lengthAdjust="spacingAndGlyphs" style="stroke-width:0.28px">Chronic GVHD</text>
<text x="220.8" y="41.65" font-size="6.8" textLength="20.5" lengthAdjust="spacingAndGlyphs"><tspan font-style="italic">P</tspan> = .01</text>
<text transform="translate(58.4 68.3) rotate(-90)" x="0" y="0" font-size="9.2" text-anchor="middle" textLength="43.7" lengthAdjust="spacingAndGlyphs">Chronic GVHD</text>
<path d="M79.2 23.1V113.5H264.8" fill="none" stroke="#2a2a2a" stroke-width="1.5"/>
<path d="M76 110.4H79.2M76 93.62H79.2M76 76.84H79.2M76 60.06H79.2M76 43.28H79.2M76 26.5H79.2" stroke="#2a2a2a" stroke-width="1"/>
<text x="73" y="112.8" font-size="7.1" text-anchor="end">0</text>
<text x="73" y="96.02" font-size="7.1" text-anchor="end">0.2</text>
<text x="73" y="79.24" font-size="7.1" text-anchor="end">0.4</text>
<text x="73" y="62.46" font-size="7.1" text-anchor="end">0.6</text>
<text x="73" y="45.68" font-size="7.1" text-anchor="end">0.8</text>
<text x="73" y="28.9" font-size="7.1" text-anchor="end">1.0</text>
<path d="M85.7 113.5V117M120.24 113.5V117M154.78 113.5V117M189.32 113.5V117M223.86 113.5V117M258.4 113.5V117" stroke="#2a2a2a" stroke-width="1"/>
<text x="85.7" y="126" font-size="7.2" text-anchor="middle" textLength="3.52" lengthAdjust="spacingAndGlyphs">0</text>
<text x="120.24" y="126" font-size="7.2" text-anchor="middle" textLength="10.57" lengthAdjust="spacingAndGlyphs">100</text>
<text x="154.78" y="126" font-size="7.2" text-anchor="middle" textLength="10.57" lengthAdjust="spacingAndGlyphs">200</text>
<text x="189.32" y="126" font-size="7.2" text-anchor="middle" textLength="10.57" lengthAdjust="spacingAndGlyphs">300</text>
<text x="223.86" y="126" font-size="7.2" text-anchor="middle" textLength="10.57" lengthAdjust="spacingAndGlyphs">400</text>
<text x="258.4" y="126" font-size="7.2" text-anchor="middle" textLength="10.57" lengthAdjust="spacingAndGlyphs">500</text>
<text x="72" y="135.9" font-size="7.4" text-anchor="end" textLength="23.5" lengthAdjust="spacingAndGlyphs">Placebo</text>
<text x="72" y="144.9" font-size="7.4" text-anchor="end" textLength="28.6" lengthAdjust="spacingAndGlyphs">Vitamin A</text>
<text x="85.7" y="135.9" font-size="7.4" text-anchor="middle" textLength="7.24" lengthAdjust="spacingAndGlyphs">40</text>
<text x="120.24" y="135.9" font-size="7.4" text-anchor="middle" textLength="7.24" lengthAdjust="spacingAndGlyphs">37</text>
<text x="154.78" y="135.9" font-size="7.4" text-anchor="middle" textLength="7.24" lengthAdjust="spacingAndGlyphs">29</text>
<text x="189.32" y="135.9" font-size="7.4" text-anchor="middle" textLength="7.24" lengthAdjust="spacingAndGlyphs">28</text>
<text x="223.86" y="135.9" font-size="7.4" text-anchor="middle" textLength="7.24" lengthAdjust="spacingAndGlyphs">24</text>
<text x="258.4" y="135.9" font-size="7.4" text-anchor="middle" textLength="7.24" lengthAdjust="spacingAndGlyphs">20</text>
<text x="85.7" y="144.9" font-size="7.4" text-anchor="middle" textLength="7.24" lengthAdjust="spacingAndGlyphs">37</text>
<text x="120.24" y="144.9" font-size="7.4" text-anchor="middle" textLength="7.24" lengthAdjust="spacingAndGlyphs">32</text>
<text x="154.78" y="144.9" font-size="7.4" text-anchor="middle" textLength="7.24" lengthAdjust="spacingAndGlyphs">32</text>
<text x="189.32" y="144.9" font-size="7.4" text-anchor="middle" textLength="7.24" lengthAdjust="spacingAndGlyphs">30</text>
<text x="223.86" y="144.9" font-size="7.4" text-anchor="middle" textLength="7.24" lengthAdjust="spacingAndGlyphs">27</text>
<text x="258.4" y="144.9" font-size="7.4" text-anchor="middle" textLength="7.24" lengthAdjust="spacingAndGlyphs">27</text>
<text x="172.4" y="157" font-size="8.8" text-anchor="middle" textLength="46.4" lengthAdjust="spacingAndGlyphs">Days post HSCT</text>
<g fill="none" stroke="#f6cdd9" stroke-width="2.4" stroke-dasharray="2.5 2.12"><path d="M85.7 110.4H155.9" stroke-dashoffset="1.79"/><path d="M155.9 107.88H264" stroke-dashoffset="2.77"/></g>
<path d="M85.7 110.25H107.4V108.25H127.6V106.25H141.1V104.25H141.9V102.25H144V100.25H158.6V97.25H212.6V95.25H216.1V93.25H221V90.25H265" fill="none" stroke="#f6cdd9" stroke-width="2.4"/>
<g fill="none" stroke="#a04563" stroke-width="1.4" stroke-dasharray="2.5 2.12"><path d="M85.7 110.4H155.9" stroke-dashoffset="1.79"/><path d="M155.9 107.88H264" stroke-dashoffset="2.77"/></g>
<path d="M155.9 110.4V107.88" fill="none" stroke="#a04563" stroke-width="1.1"/>
<path d="M85.7 110.25H107.4V108.25H127.6V106.25H141.1V104.25H141.9V102.25H144V100.25H158.6V97.25H212.6V95.25H216.1V93.25H221V90.25H265" fill="none" stroke="#a33357" stroke-width="1.05"/>
<text x="223.9" y="86.85" font-size="7.5" textLength="22.8" lengthAdjust="spacingAndGlyphs">Placebo</text>
<text x="223.9" y="104.75" font-size="7.5" textLength="27.8" lengthAdjust="spacingAndGlyphs">Vitamin A</text>
</g>
<rect x="0.5" y="0.5" width="519" height="671" fill="none" stroke="#595959" stroke-width="1"/>
</svg>
</body></html>
